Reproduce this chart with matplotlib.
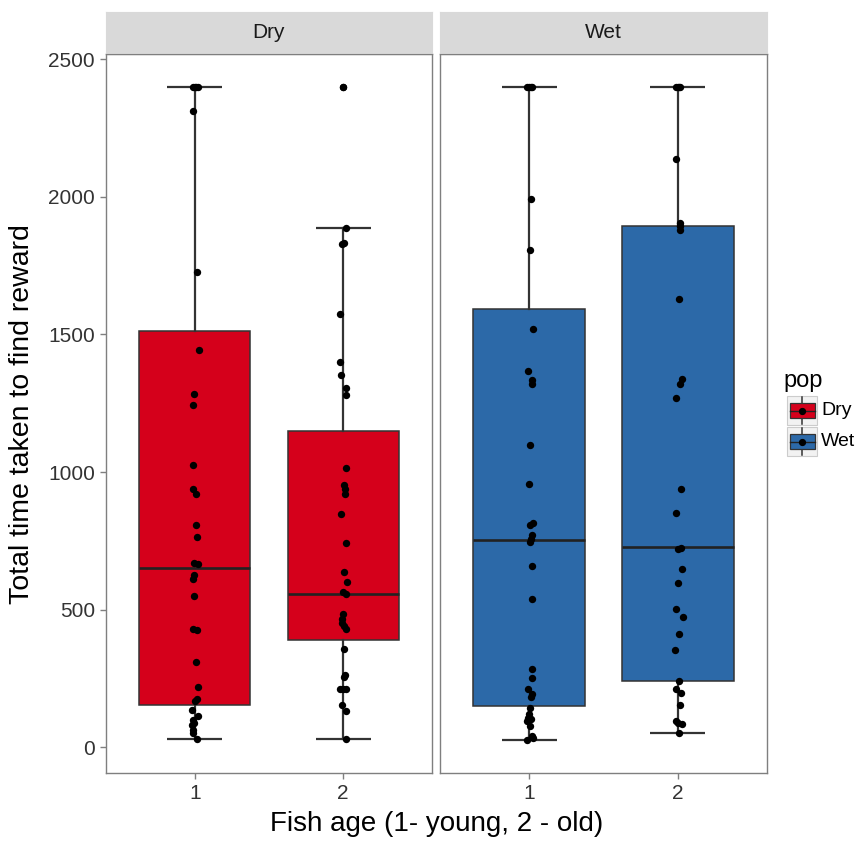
import matplotlib
matplotlib.use("Agg")
import matplotlib.pyplot as plt
from matplotlib.patches import Rectangle

plt.rcParams['font.family'] = ['Liberation Sans', 'DejaVu Sans']

# ---- data -------------------------------------------------------------
panels = ["Dry", "Wet"]
ages = [1, 2]
age_labels = ["1", "2"]
y_ticks = [0, 500, 1000, 1500, 2000, 2500]

# observed times (seconds) for each population / age group
dry_age1 = [2400, 2400, 2400, 2400, 2310, 1727, 1443, 1285, 1243, 1026, 940, 922,
            809, 764, 671, 668, 625, 612, 551, 430, 427, 311, 221, 176, 170, 136,
            115, 100, 90, 80, 65, 53, 32]
dry_age2 = [2400, 1886, 1833, 1827, 1575, 1401, 1352, 1307, 1280, 1016, 952, 940,
            922, 847, 742, 637, 600, 564, 556, 483, 465, 453, 441, 429, 358, 265,
            256, 211, 211, 211, 156, 132, 32]
wet_age1 = [2400, 2400, 2400, 2400, 1991, 1808, 1519, 1366, 1333, 1321, 1099, 956,
            817, 807, 770, 756, 746, 659, 541, 285, 251, 211, 193, 184, 144, 120,
            108, 102, 96, 77, 41, 33, 27]
wet_age2 = [2400, 2400, 2400, 2400, 2139, 1904, 1894, 1880, 1628, 1337, 1319, 1268,
            938, 851, 726, 720, 647, 598, 504, 474, 411, 353, 243, 211, 198, 154,
            96, 90, 84, 53]

# horizontal jitter of each point (x-axis units)
dry_age1_jitter = [-6, 0, 4, 8, -7, 5, 11, -2, -6, -5, -6, 3, 4, 6, -3, 8, -4, -7,
                   -3, -5, 5, 4, 8, 6, 0, -8, 10, -6, -4, -8, -6, -5, 5]
dry_age2_jitter = [0, 8, 2, -2, -8, -8, -6, 8, 8, 9, 2, 5, 7, -6, 9, 2, 12, 0, 10,
                   0, -4, -2, 2, 8, 2, 6, 2, -8, 0, 10, -3, 9, 10]
wet_age1_jitter = [-6, -2, 4, 8, 6, 2, 11, -3, 9, 8, 1, 0, 12, 3, 9, 6, 3, 9, 9, 9,
                   7, -3, 8, 4, 1, 0, -4, 4, -8, 3, 7, 10, -8]
wet_age2_jitter = [-4, 0, 4, 8, -6, 8, 6, 6, 5, 11, 8, -6, 9, -6, 10, 0, 12, 0, -5,
                   14, 5, -7, 5, -4, 10, 8, -6, 2, 12, 4]
jitter_scale = 1 / 444.0

# boxplot summaries: lower whisker, Q1, median, Q3, upper whisker, outliers
dry_whislo = [32, 32]
dry_q1 = [156, 392]
dry_med = [650, 556]
dry_q3 = [1513, 1149]
dry_whishi = [2400, 1886]
dry_fliers = [[], [2400]]

wet_whislo = [27, 53]
wet_q1 = [150, 241]
wet_med = [753, 728]
wet_q3 = [1592, 1894]
wet_whishi = [2400, 2400]
wet_fliers = [[], []]

fills = {"Dry": "#D5001B", "Wet": "#2C69A8"}

panel_data = {
    "Dry": dict(points=[dry_age1, dry_age2], jit=[dry_age1_jitter, dry_age2_jitter],
                lo=dry_whislo, q1=dry_q1, med=dry_med, q3=dry_q3, hi=dry_whishi,
                fl=dry_fliers),
    "Wet": dict(points=[wet_age1, wet_age2], jit=[wet_age1_jitter, wet_age2_jitter],
                lo=wet_whislo, q1=wet_q1, med=wet_med, q3=wet_q3, hi=wet_whishi,
                fl=wet_fliers),
}

# ---- figure -----------------------------------------------------------
W, H = 864, 843
fig = plt.figure(figsize=(W / 100, H / 100), dpi=100)

def fbox(x0, y0, x1, y1):
    return [x0 / W, 1 - y1 / H, (x1 - x0) / W, (y1 - y0) / H]

panel_px = {"Dry": (106, 432), "Wet": (440, 767)}
top_px, bot_px, strip_top = 54, 772.7, 12

all_vals = dry_age1 + dry_age2 + wet_age1 + wet_age2
lo, hi = min(all_vals), max(all_vals)
pad = 0.05 * (hi - lo)

border = "#7F7F7F"
tick_col = "#333333"
msize = 5.3

for i, name in enumerate(panels):
    x0, x1 = panel_px[name]
    ax = fig.add_axes(fbox(x0, top_px, x1, bot_px))
    d = panel_data[name]

    stats = []
    for k in range(2):
        stats.append(dict(whislo=d["lo"][k], q1=d["q1"][k], med=d["med"][k],
                          q3=d["q3"][k], whishi=d["hi"][k], fliers=d["fl"][k]))

    # whisker caps
    for k, age in enumerate(ages):
        for v in (d["lo"][k], d["hi"][k]):
            ax.plot([age - 0.185, age + 0.185], [v, v], color="#333333", lw=1.6,
                    zorder=1, solid_capstyle="butt")

    ax.bxp(stats, positions=ages, widths=0.75, patch_artist=True, showcaps=False,
           boxprops=dict(facecolor=fills[name], edgecolor="#333333", linewidth=1.1),
           whiskerprops=dict(color="#333333", linewidth=1.6),
           medianprops=dict(color="#222222", linewidth=1.9),
           flierprops=dict(marker="o", markerfacecolor="black",
                           markeredgecolor="black", markeredgewidth=0,
                           markersize=msize),
           zorder=2)

    for k, age in enumerate(ages):
        xs = [age + j * jitter_scale for j in d["jit"][k]]
        ax.plot(xs, d["points"][k], "o", color="black", markersize=msize,
                markeredgewidth=0, zorder=5)

    ax.set_xlim(0.4, 2.6)
    ax.set_ylim(lo - pad, hi + pad)
    ax.set_xticks(ages)
    ax.set_xticklabels(age_labels)
    ax.set_yticks(y_ticks)
    if i == 0:
        ax.set_yticklabels([str(t) for t in y_ticks])
    else:
        ax.tick_params(axis="y", left=False, labelleft=False)
    for s in ax.spines.values():
        s.set_color(border)
        s.set_linewidth(1.0)
    ax.tick_params(axis="both", direction="out", length=4, width=1.0,
                   color=border, labelsize=15, labelcolor=tick_col, pad=4)

    # facet strip
    sax = fig.add_axes(fbox(x0, strip_top, x1, top_px))
    sax.set_facecolor("#D9D9D9")
    sax.set_xticks([])
    sax.set_yticks([])
    for s in sax.spines.values():
        s.set_color("#D9D9D9")
    sax.spines["bottom"].set_color(border)
    sax.text(0.5, 0.5, name, ha="center", va="center", fontsize=15,
             color="#1A1A1A", transform=sax.transAxes)

# axis titles
fig.text(((106 + 767) / 2) / W, 1 - 824 / H, "Fish age (1- young, 2 - old)",
         ha="center", va="center", fontsize=20, color="black")
fig.text(22 / W, 1 - 414 / H, "Total time taken to find reward", rotation=90,
         ha="center", va="center", fontsize=20.5, color="black")

# legend
fig.text(783 / W, 1 - 381 / H, "pop", ha="left", va="center", fontsize=17)
lax = fig.add_axes(fbox(780, 390, 864, 462))
lax.set_xlim(780, 864)
lax.set_ylim(462, 390)
lax.axis("off")
key_tops = [396, 427]
for name, kt in zip(panels, key_tops):
    lax.add_patch(Rectangle((787, kt), 30, 29, facecolor="#F2F2F2",
                            edgecolor="#CCCCCC", lw=0.8))
    lax.plot([802, 802], [kt + 1, kt + 28], color="#333333", lw=1.1)
    lax.add_patch(Rectangle((789.5, kt + 7), 25, 15, facecolor=fills[name],
                            edgecolor="#333333", lw=0.9, zorder=3))
    lax.plot([789.5, 814.5], [kt + 14.5, kt + 14.5], color="#222222", lw=1.0,
             zorder=4)
    lax.plot([802], [kt + 14.5], "o", color="black", markersize=4.2, zorder=5)
    fig.text(821 / W, 1 - (kt + 14.5) / H, name, ha="left", va="center",
             fontsize=14)

fig.savefig("out.png", dpi=100)
